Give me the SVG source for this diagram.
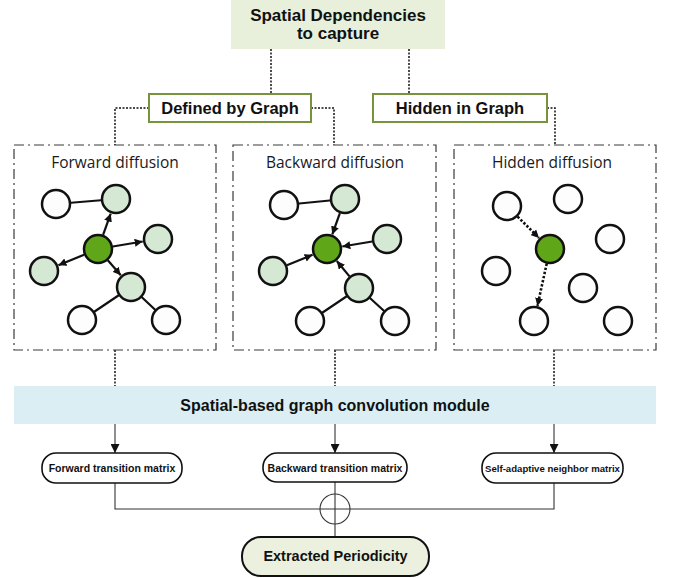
<svg xmlns="http://www.w3.org/2000/svg" width="678" height="578" viewBox="0 0 678 578">
  <style>
    .bold { font-family: "Liberation Sans", Arial, sans-serif; font-weight: bold; fill: #111; text-anchor: middle; }
    .title { font-family: "Open Sans", "Liberation Sans", sans-serif; font-size: 15.5px; fill: #1a1a1a; text-anchor: middle; }
    .dots { fill: none; stroke: #111; stroke-width: 1.5; stroke-dasharray: 2 1.5; }
    .panel { fill: #fff; stroke: #3a3a3a; stroke-width: 1.2; stroke-dasharray: 10 4 2 4; }
    .cat { fill: #fff; stroke: #77933c; stroke-width: 2; }
    .pill { fill: #fff; stroke: #111; stroke-width: 1.6; }
    .wire { fill: none; stroke: #333; stroke-width: 1.1; }
    .edge { fill: none; stroke: #111; stroke-width: 2.2; }
    .hedge { fill: none; stroke: #111; stroke-width: 2.6; stroke-dasharray: 2.4 1.8; }
    .n { stroke: #111; stroke-width: 2.5; }
    .w { fill: #fdfdfd; }
    .lg { fill: #d5e8d4; }
    .dg { fill: #5fa618; }
  </style>
  <defs>
    <marker id="head" viewBox="0 0 10 10" refX="10" refY="5" markerWidth="8" markerHeight="8" markerUnits="userSpaceOnUse" orient="auto">
      <path d="M0,0 L10,5 L0,10 z" fill="#111"/>
    </marker>
    <marker id="flow" viewBox="0 0 10 10" refX="10" refY="5" markerWidth="10" markerHeight="9" markerUnits="userSpaceOnUse" orient="auto">
      <path d="M0,0 L10,5 L0,10 z" fill="#111"/>
    </marker>
  </defs>

  <!-- connectors -->
  <g id="connectors">
    <path class="dots" d="M271,49 V94"/>
    <path class="dots" d="M409,49 V94"/>
    <path class="dots" d="M149,108 H115 V145"/>
    <path class="dots" d="M311,108 H334 V145"/>
    <path class="dots" d="M547,108 H555 V145"/>
    <path class="dots" d="M115,350 V386"/>
    <path class="dots" d="M335,350 V386"/>
    <path class="dots" d="M554,350 V386"/>
    <path class="wire" d="M115,424 V453" marker-end="url(#flow)"/>
    <path class="wire" d="M335,424 V453" marker-end="url(#flow)"/>
    <path class="wire" d="M554,424 V453" marker-end="url(#flow)"/>
    <path class="wire" d="M115,483 V509 H554 V483"/>
    <path class="wire" d="M335,482 V537"/>
    <circle class="wire" cx="335" cy="509" r="15"/>
  </g>

  <!-- top -->
  <g id="spatial-dependencies">
    <rect x="231" y="0" width="214" height="49" fill="#e8f0dc"/>
    <text class="bold" x="338" y="21" font-size="17">Spatial Dependencies</text>
    <text class="bold" x="338" y="39" font-size="17">to capture</text>
  </g>

  <g id="defined-by-graph">
    <rect class="cat" x="149" y="94" width="162" height="28"/>
    <text class="bold" x="230" y="113.5" font-size="16.5">Defined by Graph</text>
  </g>
  <g id="hidden-in-graph">
    <rect class="cat" x="373" y="94" width="174" height="28"/>
    <text class="bold" x="460" y="113.5" font-size="16.5">Hidden in Graph</text>
  </g>

  <!-- forward diffusion panel -->
  <g id="forward-diffusion">
    <rect class="panel" x="14" y="145" width="202" height="205"/>
    <text class="title" x="115" y="168">Forward diffusion</text>
    <path class="edge" d="M56,204 L116,199 M131,287 L82,320 M131,287 L166,320"/>
    <path class="edge" d="M103.1,234.9 L110.7,213.6" marker-end="url(#head)"/>
    <path class="edge" d="M112.8,246.5 L142.7,241.5" marker-end="url(#head)"/>
    <path class="edge" d="M84.1,254.7 L58.4,265.2" marker-end="url(#head)"/>
    <path class="edge" d="M107.8,260.3 L120.8,275.3" marker-end="url(#head)"/>
    <circle class="n w" cx="56" cy="204" r="14"/>
    <circle class="n lg" cx="116" cy="199" r="14"/>
    <circle class="n lg" cx="158" cy="239" r="14"/>
    <circle class="n dg" cx="98" cy="249" r="14"/>
    <circle class="n lg" cx="44" cy="271" r="14"/>
    <circle class="n lg" cx="131" cy="287" r="14"/>
    <circle class="n w" cx="82" cy="320" r="14"/>
    <circle class="n w" cx="166" cy="320" r="14"/>
  </g>

  <!-- backward diffusion panel -->
  <g id="backward-diffusion">
    <rect class="panel" x="233" y="145" width="203" height="205"/>
    <text class="title" x="335" y="168">Backward diffusion</text>
    <path class="edge" d="M284,205 L345,199 M359,288 L310,321 M359,288 L395,321"/>
    <path class="edge" d="M339.9,213.1 L332.3,234.4" marker-end="url(#head)"/>
    <path class="edge" d="M372.2,241.5 L342.3,246.5" marker-end="url(#head)"/>
    <path class="edge" d="M286.9,265.3 L312.6,254.8" marker-end="url(#head)"/>
    <path class="edge" d="M349.5,276.4 L336.8,261" marker-end="url(#head)"/>
    <circle class="n w" cx="284" cy="205" r="14"/>
    <circle class="n lg" cx="345" cy="199" r="14"/>
    <circle class="n lg" cx="387" cy="239" r="14"/>
    <circle class="n dg" cx="327" cy="249" r="14"/>
    <circle class="n lg" cx="273" cy="271" r="14"/>
    <circle class="n lg" cx="359" cy="288" r="14"/>
    <circle class="n w" cx="310" cy="321" r="14"/>
    <circle class="n w" cx="395" cy="321" r="14"/>
  </g>

  <!-- hidden diffusion panel -->
  <g id="hidden-diffusion">
    <rect class="panel" x="454" y="145" width="202" height="205"/>
    <text class="title" x="552" y="168">Hidden diffusion</text>
    <path class="hedge" d="M517.6,216.6 L539,238" marker-end="url(#head)"/>
    <path class="hedge" d="M546.7,263.6 L537.4,305.9" marker-end="url(#head)"/>
    <circle class="n w" cx="507" cy="206" r="14"/>
    <circle class="n w" cx="568" cy="199" r="14"/>
    <circle class="n w" cx="610" cy="239" r="14"/>
    <circle class="n dg" cx="550" cy="249" r="14"/>
    <circle class="n w" cx="496" cy="271" r="14"/>
    <circle class="n w" cx="583" cy="288" r="14"/>
    <circle class="n w" cx="534" cy="321" r="14"/>
    <circle class="n w" cx="618" cy="321" r="14"/>
  </g>

  <!-- convolution module bar -->
  <g id="convolution-module">
    <rect x="14" y="386" width="642" height="38" fill="#dbeef4"/>
    <text class="bold" x="335" y="411" font-size="16">Spatial-based graph convolution module</text>
  </g>

  <g id="forward-matrix">
    <rect class="pill" x="42" y="453" width="140" height="30" rx="14"/>
    <text class="bold" x="112" y="471.5" font-size="10.5">Forward transition matrix</text>
  </g>
  <g id="backward-matrix">
    <rect class="pill" x="263" y="453" width="144" height="29" rx="14"/>
    <text class="bold" x="335" y="471.5" font-size="10.5">Backward transition matrix</text>
  </g>
  <g id="adaptive-matrix">
    <rect class="pill" x="482" y="453" width="141" height="30" rx="14"/>
    <text class="bold" x="552.5" y="471.5" font-size="9.6">Self-adaptive neighbor matrix</text>
  </g>

  <g id="extracted-periodicity">
    <rect x="242" y="537" width="187" height="39" rx="19" fill="#ebf1de" stroke="#111" stroke-width="2"/>
    <text class="bold" x="335.5" y="561" font-size="14.5">Extracted Periodicity</text>
  </g>
</svg>
